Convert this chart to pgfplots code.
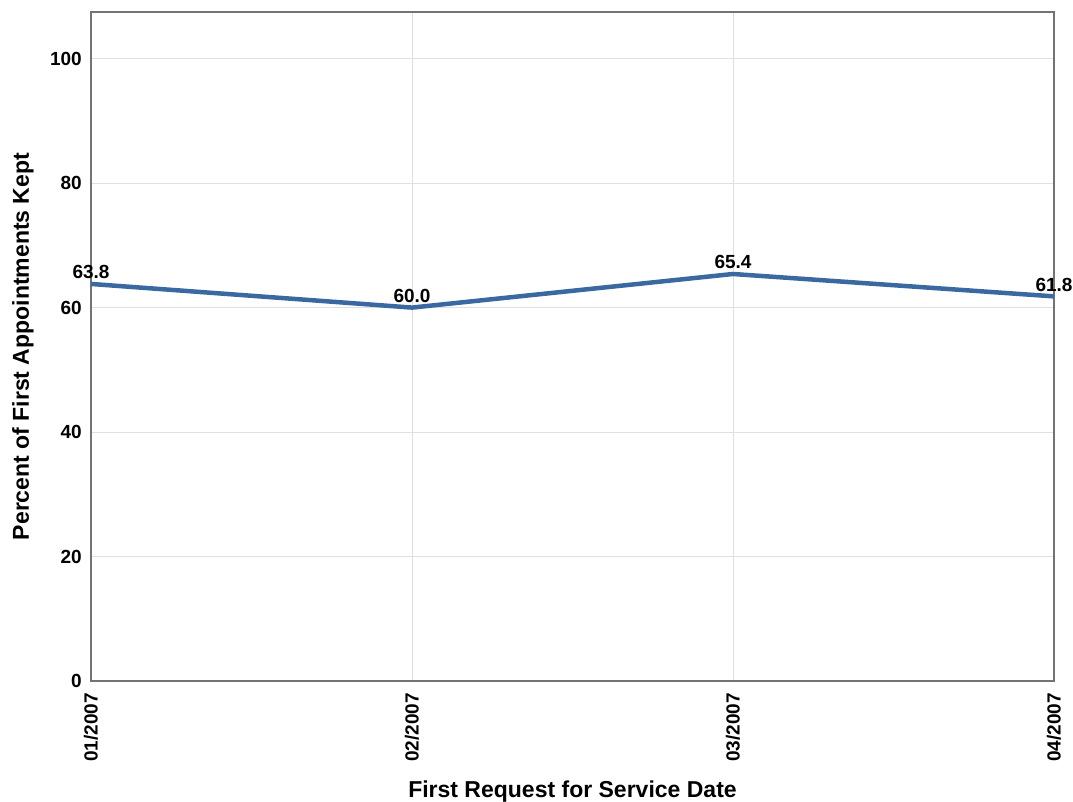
\documentclass[border=0pt]{standalone}
\usepackage{pgfplots}
\pgfplotsset{compat=1.18}
\usepackage{fontspec}
\setmainfont{Liberation Sans}
\definecolor{linecol}{RGB}{58,104,160}
\begin{document}
\begin{tikzpicture}
\useasboundingbox (0,0) rectangle (1073pt,802pt);
\begin{axis}[
  at={(91pt,121pt)}, anchor=south west,
  scale only axis, width=963pt, height=669pt,
  xmin=0, xmax=3, ymin=0, ymax=107.5,
  xtick={0,1,2,3},
  xticklabels={01/2007,02/2007,03/2007,04/2007},
  x tick label style={rotate=90, anchor=east, inner sep=0pt, xshift=0pt, yshift=0pt, font=\fontsize{19}{19}\selectfont\bfseries},
  xticklabel shift=12pt,
  ytick={0,20,40,60,80,100},
  y tick label style={anchor=east, inner sep=0pt, font=\fontsize{19}{19}\selectfont\bfseries},
  yticklabel shift=9pt,
  /pgf/number format/assume math mode=true,
  major tick length=0pt,
  grid=major,
  major grid style={draw=black!12, line width=1pt},
  axis line style={draw=black!55, line width=1.2pt},
  xlabel={First Request for Service Date},
  ylabel={Percent of First Appointments Kept},
  label style={font=\fontsize{23}{23}\selectfont\bfseries},
  xlabel style={at={(axis description cs:0.5,0)}, anchor=base, yshift=-117pt},
  ylabel style={at={(axis description cs:-0.0706,0.5)}, anchor=center, yshift=0pt},
  clip=false,
]
\addplot[linecol, line width=4.5pt, nodes near coords, point meta=explicit symbolic,
  every node near coord/.append style={font=\fontsize{19}{19}\selectfont\bfseries, black, anchor=base, inner sep=0pt, yshift=5pt}]
  table[meta=label] {
x y label
0 63.8 63.8
1 60.0 60.0
2 65.4 65.4
3 61.8 61.8
};
\end{axis}
\end{tikzpicture}
\end{document}
